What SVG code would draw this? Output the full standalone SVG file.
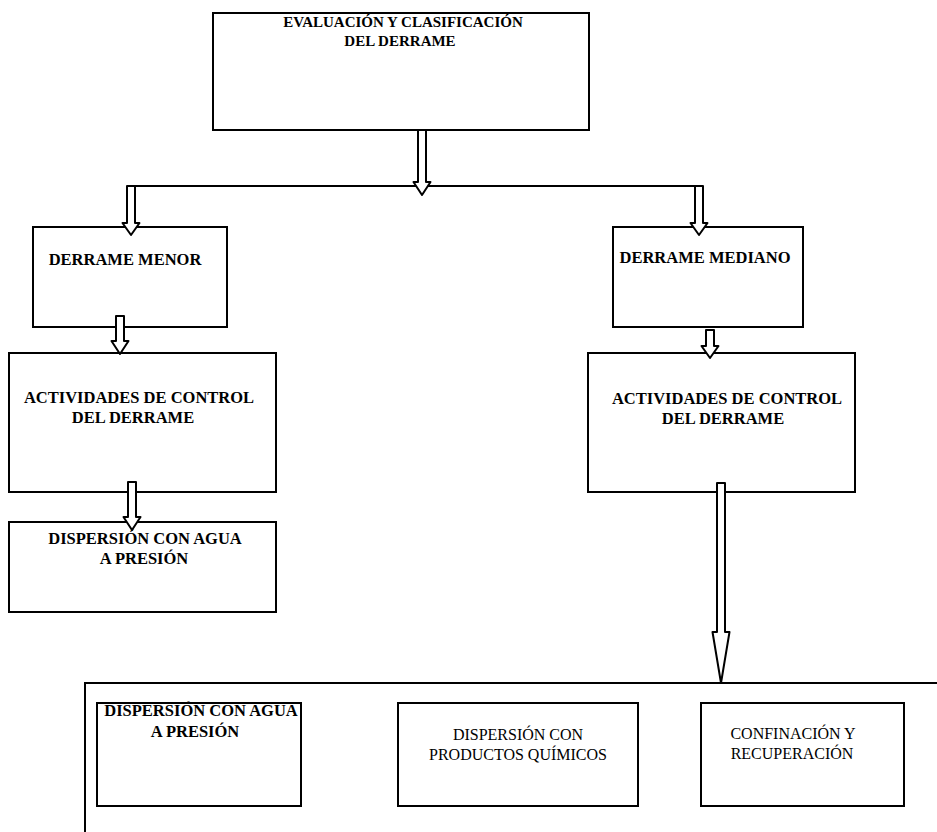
<svg xmlns="http://www.w3.org/2000/svg" width="937" height="832" viewBox="0 0 937 832">
<style>
.box{fill:none;stroke:#000;stroke-width:2}
.line{fill:none;stroke:#000;stroke-width:2}
.arrow{fill:#fff;stroke:#000;stroke-width:2;stroke-linejoin:round}
.tb{font-family:"Liberation Serif","Times New Roman",serif;font-weight:bold;font-size:16.5px;fill:#000;text-anchor:middle}
.tt{font-family:"Liberation Serif","Times New Roman",serif;font-weight:bold;font-size:15px;fill:#000;text-anchor:middle}
.tr{font-family:"Liberation Serif","Times New Roman",serif;font-size:16px;fill:#000;text-anchor:middle}
</style>
<rect width="937" height="832" fill="#fff"/>
<g id="n-evaluacion">
<rect class="box" x="213" y="13" width="376" height="117"/>
<text class="tt" x="403" y="27">EVALUACIÓN Y CLASIFICACIÓN</text>
<text class="tt" x="400" y="46">DEL DERRAME</text>
</g>
<g id="n-menor">
<rect class="box" x="33" y="227" width="194" height="100"/>
<text class="tb" x="125" y="265">DERRAME MENOR</text>
</g>
<g id="n-mediano">
<rect class="box" x="613" y="227" width="190" height="100"/>
<text class="tb" x="705" y="263">DERRAME MEDIANO</text>
</g>
<g id="n-act-izq">
<rect class="box" x="9" y="353" width="267" height="139"/>
<text class="tb" x="139" y="403">ACTIVIDADES DE CONTROL</text>
<text class="tb" x="133" y="423">DEL DERRAME</text>
</g>
<g id="n-act-der">
<rect class="box" x="588" y="353" width="267" height="139"/>
<text class="tb" x="727" y="404">ACTIVIDADES DE CONTROL</text>
<text class="tb" x="723" y="424">DEL DERRAME</text>
</g>
<g id="n-disp-izq">
<rect class="box" x="9" y="522" width="267" height="90"/>
<text class="tb" x="145" y="544">DISPERSIÓN CON AGUA</text>
<text class="tb" x="144" y="564">A PRESIÓN</text>
</g>
<g id="n-contenedor">
<path class="box" d="M85 840 V683 H945"/>
</g>
<g id="n-disp-agua">
<rect class="box" x="97" y="703" width="204" height="103"/>
<text class="tb" x="201" y="716">DISPERSIÓN CON AGUA</text>
<text class="tb" x="195" y="737">A PRESIÓN</text>
</g>
<g id="n-disp-quim">
<rect class="box" x="398" y="703" width="240" height="103"/>
<text class="tr" x="518" y="740">DISPERSIÓN CON</text>
<text class="tr" x="518" y="760">PRODUCTOS QUÍMICOS</text>
</g>
<g id="n-confinacion">
<rect class="box" x="701" y="703" width="203" height="103"/>
<text class="tr" x="793" y="739">CONFINACIÓN Y</text>
<text class="tr" x="792" y="759">RECUPERACIÓN</text>
</g>
<g id="connectors">
<path class="line" d="M127 186 H703"/>
<path class="arrow" d="M418 130 V182 H413.5 L422 195 L430.5 182 H426 V130 Z"/>
<path class="arrow" d="M127 186 V223 H122.5 L131 235 L139.5 223 H135 V186 Z"/>
<path class="arrow" d="M695 186 V223 H690.5 L699 235 L707.5 223 H703 V186 Z"/>
<path class="arrow" d="M116 316 V341 H111.5 L120 354 L128.5 341 H124 V316 Z"/>
<path class="arrow" d="M706 330 V346 H701.5 L710 358 L718.5 346 H714 V330 Z"/>
<path class="arrow" d="M128 482 V517 H123.5 L132 530 L140.5 517 H136 V482 Z"/>
<path class="arrow" d="M717 483 V632 H712.5 L721 683 L729.5 632 H725 V483 Z"/>
</g>
</svg>
